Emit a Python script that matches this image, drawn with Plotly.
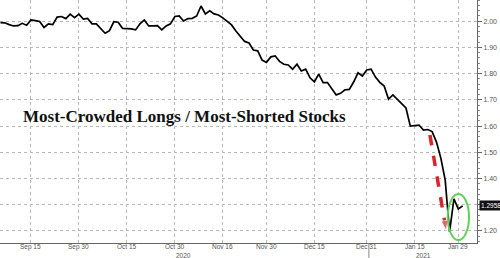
import pandas as pd
import plotly.graph_objects as go

# ---- data ----
start_date = "2020-09-04"
end_date = "2021-02-01"
ratio = [
    1.995, 1.994, 1.987, 1.982, 1.983, 1.992, 1.985, 2.005, 2.002, 1.999,
    1.976, 1.990, 1.987, 2.016, 2.018, 2.010, 2.027, 2.014, 2.027, 2.008,
    2.011, 1.990, 1.990, 1.973, 1.954, 1.964, 1.998, 1.996, 1.973, 1.972,
    1.971, 1.967, 1.990, 2.005, 1.982, 1.982, 1.983, 1.967, 1.982, 1.990,
    2.018, 2.020, 2.001, 2.010, 2.011, 2.020, 2.058, 2.028, 2.040, 2.028,
    2.024, 2.013, 1.999, 1.986, 1.963, 1.944, 1.923, 1.917, 1.890, 1.887,
    1.852, 1.843, 1.864, 1.868, 1.847, 1.836, 1.833, 1.817, 1.836, 1.810,
    1.817, 1.784, 1.769, 1.798, 1.766, 1.766, 1.740, 1.719, 1.725, 1.738,
    1.740, 1.768, 1.803, 1.791, 1.814, 1.817, 1.787, 1.767, 1.753, 1.703,
    1.719, 1.703, 1.684, 1.669, 1.600, 1.602, 1.604, 1.585, 1.587, 1.579,
    1.539, 1.478, 1.394, 1.196, 1.322, 1.284, 1.2958,
]
dates = pd.bdate_range(start_date, end_date)

tick_dates = ["2020-09-15", "2020-09-30", "2020-10-15", "2020-10-30", "2020-11-16",
              "2020-11-30", "2020-12-15", "2020-12-31", "2021-01-15", "2021-01-29"]
tick_text = ["Sep 15", "Sep 30", "Oct 15", "Oct 30", "Nov 16",
             "Nov 30", "Dec 15", "Dec 31", "Jan 15", "Jan 29"]
y_ticks = [1.2, 1.3, 1.4, 1.5, 1.6, 1.7, 1.8, 1.9, 2.0]
y_tick_text = ["1.20", "", "1.40", "1.50", "1.60", "1.70", "1.80", "1.90", "2.00"]

year_labels = ["2020", "2021"]
year_label_dates = ["2020-11-03", "2021-01-19"]
year_sep_date = "2020-12-31 12:00"

title_text = "Most-Crowded Longs / Most-Shorted Stocks"
last_label = "1.2958"

arrow_dates = ["2021-01-20 12:00", "2021-01-26 06:00"]
arrow_vals = [1.566, 1.20]

ellipse_dates = ["2021-01-26 14:00", "2021-02-02 11:00"]
ellipse_vals = [1.165, 1.341]

x_range = ["2020-09-03 21:36", "2021-02-04 07:00"]
y_range = [1.154, 2.081]

GRID = "#b8b8b8"
AX = "#555555"
PLOT_H = 243.0

fig = go.Figure()

fig.add_trace(go.Scatter(
    x=dates, y=ratio, mode="lines",
    line=dict(color="#000000", width=1.7),
    hoverinfo="skip", showlegend=False,
))

# red dashed arrow
fig.add_trace(go.Scatter(
    x=arrow_dates, y=arrow_vals, mode="lines+markers",
    line=dict(color="#d6282b", width=3.5, dash="dash"),
    marker=dict(symbol="arrow", angleref="previous", size=[0, 11], color="#d6282b"),
    hoverinfo="skip", showlegend=False,
))

fig.add_shape(type="circle", xref="x", yref="y",
              x0=ellipse_dates[0], x1=ellipse_dates[1],
              y0=ellipse_vals[0], y1=ellipse_vals[1],
              line=dict(color="#5fd35a", width=2))

fig.add_shape(type="line", xref="x", yref="paper",
              x0=year_sep_date, x1=year_sep_date, y0=0, y1=-15 / PLOT_H,
              line=dict(color="#888888", width=1))

# x tick labels
for lab, d in zip(tick_text, tick_dates):
    fig.add_annotation(x=d, y=-4 / PLOT_H, xref="x", yref="paper", text=lab,
                       showarrow=False, yanchor="middle", xanchor="center",
                       font=dict(family="Liberation Sans", size=6.5, color=AX))

for lab, d in zip(year_labels, year_label_dates):
    fig.add_annotation(x=d, y=-12.5 / PLOT_H, xref="x", yref="paper", text=lab,
                       showarrow=False, yanchor="middle", xanchor="center",
                       font=dict(family="Liberation Sans", size=6.5, color=AX))

fig.add_annotation(x=0.045, y=0.52, xref="paper", yref="paper", text=title_text,
                   showarrow=False, xanchor="left", yanchor="middle",
                   font=dict(family="Liberation Serif", size=17, color="#111111",
                             weight="bold"))

fig.add_annotation(x=1, y=ratio[-1], xref="paper", yref="y", text=last_label,
                   showarrow=False, xanchor="left", yanchor="middle", xshift=2,
                   bgcolor="#111111", borderpad=1,
                   font=dict(family="Liberation Sans", size=6.5, color="#ffffff"))

fig.update_layout(
    width=500, height=258,
    margin=dict(l=0, r=23, t=0, b=15),
    paper_bgcolor="#ffffff", plot_bgcolor="#ffffff",
    showlegend=False,
)
fig.update_xaxes(
    type="date", range=x_range,
    rangebreaks=[dict(bounds=["sat", "mon"])],
    tickmode="array", tickvals=tick_dates, showticklabels=False,
    showgrid=True, gridcolor=GRID, griddash="dot", gridwidth=1,
    showline=True, linecolor="#666666", linewidth=1,
    ticks="", zeroline=False, fixedrange=True,
)
fig.update_yaxes(
    side="right", range=y_range,
    tickmode="array", tickvals=y_ticks, ticktext=y_tick_text,
    tickfont=dict(family="Liberation Sans", size=7, color=AX),
    showgrid=True, gridcolor=GRID, griddash="dot", gridwidth=1,
    showline=True, linecolor="#666666", linewidth=1,
    ticks="outside", ticklen=4, tickcolor="#666666",
    minor=dict(dtick=0.02, tick0=1.2, ticks="outside", ticklen=2, tickcolor="#888888", showgrid=False),
    zeroline=False, fixedrange=True,
)

fig.write_html("out.html")
